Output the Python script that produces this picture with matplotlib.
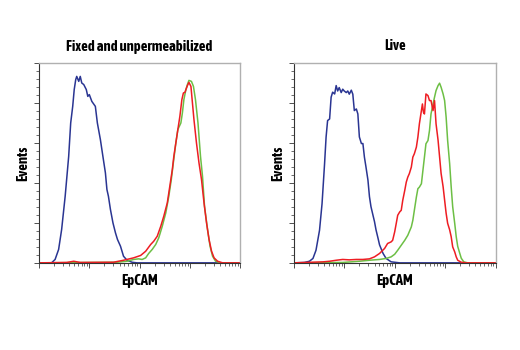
import os
import numpy as np
import matplotlib
matplotlib.use("Agg")
import matplotlib.pyplot as plt
from matplotlib import font_manager as fm
from matplotlib.ticker import LogLocator, MultipleLocator, NullFormatter

# ---- data: x in log10 decades (0..4), y in % of axis height ----
fixed_blue_x = [0, 0.25, 0.32, 0.39, 0.45, 0.52, 0.59, 0.63, 0.67, 0.70, 0.73, 0.75, 0.79, 0.82, 0.85, 0.89, 0.94, 0.97, 1.00, 1.05, 1.12, 1.16, 1.22, 1.27, 1.32, 1.35, 1.38, 1.42, 1.47, 1.52, 1.56, 1.62, 1.68, 1.75, 1.85, 1.95, 4]
fixed_blue_y = [0, 0, 1.7, 6.7, 16.7, 33.3, 53.3, 70, 78.3, 86.7, 91.7, 93.3, 90.8, 93.3, 90, 89.2, 86.7, 83.3, 84.2, 80.8, 78.3, 70, 61.7, 53.3, 45, 36.7, 33.3, 26.7, 20, 15, 11.7, 8.3, 3.3, 1.3, 0.3, 0, 0]

fixed_red_x = [0, 0.55, 0.69, 0.82, 1.48, 1.68, 1.88, 2.02, 2.12, 2.22, 2.28, 2.35, 2.42, 2.48, 2.55, 2.60, 2.65, 2.68, 2.72, 2.76, 2.80, 2.84, 2.87, 2.90, 2.92, 2.95, 2.98, 3.02, 3.05, 3.08, 3.13, 3.18, 3.23, 3.28, 3.33, 3.38, 3.43, 3.48, 3.55, 3.65, 4]
fixed_red_y = [0, 0.2, 0.8, 0.2, 0.3, 1.3, 2.5, 3.7, 5.8, 9.2, 10.8, 13.3, 18.3, 23.3, 30, 38.3, 46.7, 53.3, 60, 66.7, 73.3, 81.7, 85, 85.3, 86.7, 88.7, 90.3, 88.3, 80, 71.7, 60, 50, 41.7, 30, 20, 11.7, 5.8, 2.5, 0.8, 0, 0]

fixed_green_x = [0, 1.55, 1.75, 1.88, 1.98, 2.05, 2.12, 2.18, 2.25, 2.32, 2.38, 2.45, 2.52, 2.58, 2.63, 2.67, 2.72, 2.76, 2.82, 2.85, 2.88, 2.92, 2.95, 2.98, 3.03, 3.07, 3.11, 3.16, 3.21, 3.25, 3.29, 3.35, 3.40, 3.45, 3.51, 3.61, 4]
fixed_green_y = [0, 0.3, 0.8, 1.7, 2, 1.7, 2.5, 4.7, 6.7, 9.2, 12.5, 18.3, 25, 33.3, 41.7, 50, 60, 66.7, 70, 75, 81.7, 86.7, 89.2, 91.3, 90.8, 88.3, 81.7, 70, 53.3, 43.3, 28.3, 16.7, 8.3, 3.3, 0.8, 0, 0]

live_blue_x = [0, 0.21, 0.31, 0.38, 0.44, 0.51, 0.56, 0.61, 0.64, 0.67, 0.71, 0.74, 0.77, 0.81, 0.84, 0.87, 0.90, 0.94, 0.97, 1.00, 1.04, 1.07, 1.10, 1.14, 1.17, 1.20, 1.24, 1.27, 1.30, 1.34, 1.37, 1.40, 1.43, 1.47, 1.50, 1.53, 1.57, 1.60, 1.63, 1.67, 1.70, 1.77, 1.83, 1.93, 2.10, 4]
live_blue_y = [0, 0.2, 0.8, 2.2, 6.3, 16.3, 29.6, 49.6, 62.9, 71.2, 72.0, 82.9, 85.4, 84.5, 88.7, 86.0, 87.7, 85.2, 86.9, 86.0, 85.2, 86.0, 84.4, 86.4, 84.4, 76.2, 77.0, 74.5, 63.0, 59.7, 59.7, 52.9, 48.1, 41.4, 33.1, 28.1, 23.8, 20.6, 16.5, 12.3, 9.0, 4.7, 2.2, 0.5, 0, 0]

live_red_x = [0, 0.58, 0.71, 0.84, 0.97, 1.10, 1.24, 1.37, 1.50, 1.60, 1.70, 1.80, 1.86, 1.93, 1.96, 2.00, 2.03, 2.06, 2.10, 2.13, 2.16, 2.20, 2.23, 2.26, 2.29, 2.33, 2.36, 2.39, 2.43, 2.46, 2.49, 2.53, 2.55, 2.57, 2.59, 2.62, 2.66, 2.69, 2.72, 2.76, 2.79, 2.82, 2.86, 2.89, 2.92, 2.96, 2.99, 3.02, 3.05, 3.09, 3.12, 3.15, 3.19, 3.22, 3.25, 3.32, 3.42, 4]
live_red_y = [0, 0.5, 0.8, 1.3, 1.7, 1.5, 1.7, 1.7, 2.0, 3.0, 4.7, 7.2, 9.7, 10.5, 11.3, 15.5, 19.6, 23.8, 25.5, 26.3, 31.3, 36.3, 40.4, 42.9, 44.6, 47.9, 52.9, 54.6, 57.9, 62.9, 69.6, 76.2, 79.5, 75.4, 74.5, 84.5, 83.7, 81.2, 81.2, 76.2, 81.2, 69.6, 61.4, 53.1, 44.8, 38.1, 31.4, 24.8, 19.8, 16.5, 13.1, 8.0, 5.5, 3.0, 1.3, 0.3, 0, 0]

live_green_x = [0, 0.97, 1.30, 1.50, 1.70, 1.83, 1.93, 2.00, 2.06, 2.13, 2.20, 2.26, 2.33, 2.36, 2.39, 2.43, 2.46, 2.49, 2.53, 2.56, 2.59, 2.62, 2.66, 2.69, 2.72, 2.76, 2.79, 2.82, 2.86, 2.89, 2.92, 2.96, 2.99, 3.02, 3.05, 3.09, 3.12, 3.15, 3.19, 3.22, 3.25, 3.29, 3.32, 3.37, 3.45, 4]
live_green_y = [0, 0.2, 0.8, 1.3, 1.7, 2.2, 3.0, 4.3, 6.3, 8.8, 11.3, 13.8, 18.0, 21.3, 26.3, 32.9, 37.1, 37.9, 39.6, 46.3, 52.9, 59.6, 61.2, 66.2, 74.5, 79.5, 82.9, 86.2, 88.7, 89.9, 87.9, 84.5, 81.2, 72.9, 61.2, 49.6, 38.1, 28.1, 19.8, 13.1, 8.2, 4.8, 2.3, 0.5, 0, 0]

titles = ["Fixed and unpermeabilized", "Live"]
xlabel = "EpCAM"
ylabel = "Events"

BLUE = "#2a3592"
RED = "#ee1d23"
GREEN = "#6dbf45"

# choose a condensed bold font (Helvetica-Condensed-like)
candidates = [
    "/usr/share/fonts/truetype/google-fonts/AsapCondensed-Bold.ttf",
    "/usr/share/fonts/truetype/google-fonts/BarlowCondensed-Bold.ttf",
    "/usr/share/fonts/truetype/dejavu/DejaVuSansCondensed-Bold.ttf",
]
cond_path = next((p for p in candidates if os.path.exists(p)), None)

fig = plt.figure(figsize=(5.2, 3.5), dpi=100)
renderer = fig.canvas.get_renderer()

def make_fp(size):
    if cond_path:
        return fm.FontProperties(fname=cond_path, size=size)
    return fm.FontProperties(family="DejaVu Sans", weight="bold", size=size)

# fit title width to ~145 px as in reference
probe = fig.text(0, 0, titles[0], fontproperties=make_fp(10))
w = probe.get_window_extent(renderer).width
probe.remove()
size = 10 * 145.0 / w
fp = make_fp(size)

panels = [
    ([0.075, 0.249, 0.387, 0.571], (fixed_blue_x, fixed_blue_y), (fixed_red_x, fixed_red_y), (fixed_green_x, fixed_green_y)),
    ([0.565, 0.249, 0.388, 0.571], (live_blue_x, live_blue_y), (live_red_x, live_red_y), (live_green_x, live_green_y)),
]

for i, (rect, b, r, g) in enumerate(panels):
    ax = fig.add_axes(rect)
    for (xs, ys), c in ((b, BLUE), (g, GREEN), (r, RED)):
        ax.plot(10 ** np.array(xs), ys, color=c, lw=1.1)
    ax.set_xscale("log")
    ax.set_xlim(1, 1e4)
    ax.set_ylim(0, 100)
    ax.xaxis.set_major_locator(LogLocator(base=10, numticks=10))
    ax.xaxis.set_minor_locator(LogLocator(base=10, subs=np.arange(2, 10), numticks=20))
    ax.xaxis.set_major_formatter(NullFormatter())
    ax.xaxis.set_minor_formatter(NullFormatter())
    ax.yaxis.set_major_locator(MultipleLocator(20))
    ax.yaxis.set_minor_locator(MultipleLocator(4))
    ax.yaxis.set_major_formatter(NullFormatter())
    ax.tick_params(which="major", direction="out", length=3.5, width=0.6, color="#333333")
    ax.tick_params(which="minor", direction="out", length=2, width=0.5, color="#333333")
    for s in ("left", "bottom"):
        ax.spines[s].set_color("#333333")
        ax.spines[s].set_linewidth(0.8)
    for s in ("top", "right"):
        ax.spines[s].set_color("#b0b0b0")
        ax.spines[s].set_linewidth(1.0)
    ax.set_title(titles[i], pad=9, fontproperties=fp)
    ax.set_xlabel(xlabel, labelpad=1, fontproperties=fp)
    ax.set_ylabel(ylabel, labelpad=-1, fontproperties=fp)

fig.savefig("out.png", dpi=100)
